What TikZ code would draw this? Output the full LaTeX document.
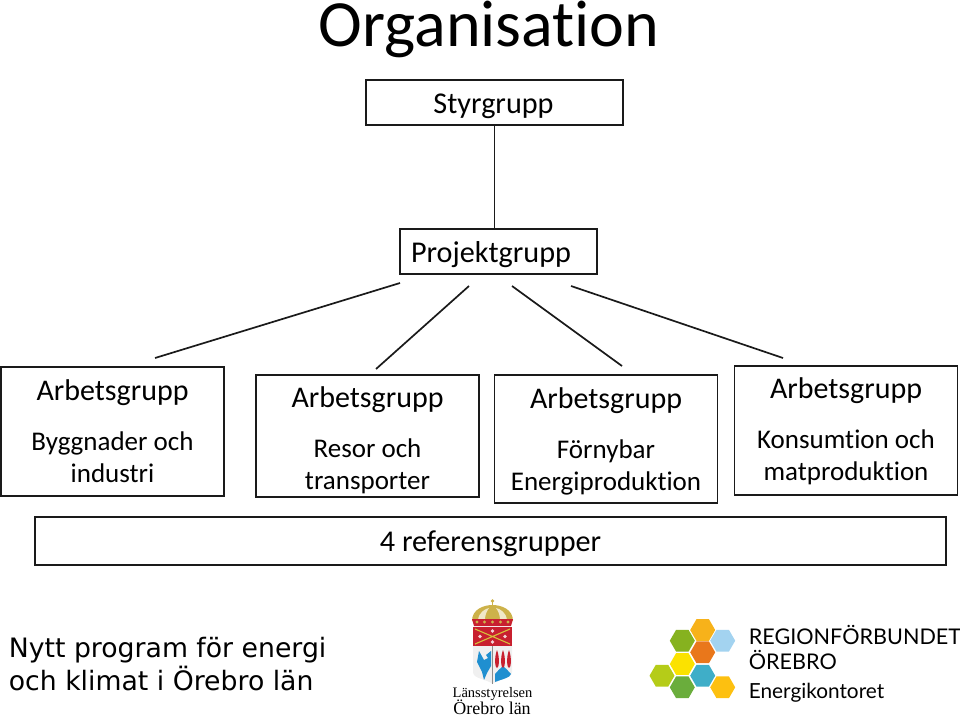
\documentclass[tikz,border=0pt]{standalone}
\usepackage{fontspec}
\setmainfont[Ligatures=NoCommon]{Carlito}
\newfontfamily\screenfont{DejaVu Sans}
\newfontfamily\regionfont{Lato}
\newfontfamily\countyfont{Liberation Serif}
\usetikzlibrary{shapes.geometric}
\definecolor{linegray}{HTML}{1A1A1A}
\definecolor{hexorange}{HTML}{F7B21A}
\definecolor{hexsky}{HTML}{A3D3F0}
\definecolor{hexgreen}{HTML}{86B21F}
\definecolor{hexdeep}{HTML}{E9771B}
\definecolor{hexyellow}{HTML}{FBE200}
\definecolor{hexteal}{HTML}{3FAEC8}
\definecolor{hexlime}{HTML}{B5CC18}
\definecolor{hexforest}{HTML}{6AAD3C}
\definecolor{hexamber}{HTML}{FDC010}
\definecolor{crestred}{HTML}{C8202F}
\definecolor{crestblue}{HTML}{1F8FD0}
\definecolor{crestgold}{HTML}{CDB24A}
\newcommand{\grouphead}[2]{{\fontsize{30}{32}\selectfont\rule{0pt}{#1pt}#2}}
\begin{document}
\begin{tikzpicture}[
    x=1pt, y=-1pt, line width=1.7pt,
    box/.style={draw=linegray, rectangle, align=center, inner sep=0pt, text=black},
    groupbox/.style={box, minimum width=223pt, font=\fontsize{27}{32}\selectfont},
    topbox/.style={box, font=\fontsize{30.2}{32}\selectfont},
    hexcell/.style={regular polygon, regular polygon sides=6, minimum size=25pt, inner sep=0pt, draw=none},
    logotext/.style={inner sep=0pt, anchor=base west, text=black}
]
\useasboundingbox (0,0) rectangle (960,720);
\node (title) [inner sep=0pt, anchor=base, font=\fontsize{66}{70}\selectfont] at (489,46) {Organisation};
\node (styrgrupp) [topbox, minimum width=257pt, minimum height=45pt] at (494.5,102.5) {\rule{0pt}{27pt}Styrgrupp\hspace*{2pt}};
\node (projektgrupp) [topbox, minimum width=197pt, minimum height=45pt] at (498.5,251.5) {\rule{0pt}{27pt}Projektgrupp\hspace*{15pt}};
\node (arbetsgrupp_byggnader) [groupbox, minimum height=129pt] at (112.5,431.5) {\grouphead{20}{Arbetsgrupp}\\[18pt]Byggnader och\\industri};
\node (arbetsgrupp_resor) [groupbox, minimum height=122pt] at (367.5,436) {\grouphead{30}{Arbetsgrupp}\\[18pt]Resor och\\transporter};
\node (arbetsgrupp_fornybar) [groupbox, minimum height=128pt] at (606,439) {\grouphead{25}{Arbetsgrupp}\\[18pt]Förnybar\\Energiproduktion};
\node (arbetsgrupp_konsumtion) [groupbox, minimum height=129pt] at (846,430.5) {\grouphead{22}{Arbetsgrupp}\\[18pt]Konsumtion och\\matproduktion};
\node (referensgrupper) [topbox, minimum width=911pt, minimum height=48pt] at (490.5,541) {\rule{0pt}{27pt}4 referensgrupper};
\coordinate (byggnader_from) at (400,283);
\coordinate (byggnader_to) at (155,358);
\coordinate (resor_from) at (469,286);
\coordinate (resor_to) at (376,369);
\coordinate (fornybar_from) at (512,286);
\coordinate (fornybar_to) at (622,366);
\coordinate (konsumtion_from) at (571,286);
\coordinate (konsumtion_to) at (783,358);
\draw[linegray] (styrgrupp.south) -- (styrgrupp.south |- projektgrupp.north);
\draw[linegray] (byggnader_from) -- (byggnader_to);
\draw[linegray] (resor_from) -- (resor_to);
\draw[linegray] (fornybar_from) -- (fornybar_to);
\draw[linegray] (konsumtion_from) -- (konsumtion_to);
\node (program_line_one) [logotext, font=\screenfont\fontsize{26.7}{30}\selectfont] at (8,657) {Nytt program för energi};
\node (program_line_two) [logotext, font=\screenfont\fontsize{26.7}{30}\selectfont] at (8,690) {och klimat i Örebro län};
\draw[crestgold, line width=1pt] (492.5,601) -- (492.5,606);
\fill[crestgold] (492.5,601) circle (1.8);
\fill[crestgold] (472,621) .. controls (472,609) and (484,605) .. (492.5,605) .. controls (501,605) and (513,609) .. (513,621) -- cycle;
\fill[white, opacity=.7] (478,620) .. controls (479,612) and (485,609) .. (489,608) .. controls (486,612) and (485,616) .. (485,620) -- cycle;
\fill[white, opacity=.7] (507,620) .. controls (506,612) and (500,609) .. (496,608) .. controls (499,612) and (500,616) .. (500,620) -- cycle;
\fill[crestred] (472,619) -- (513,619) -- (511,626) -- (474,626) -- cycle;
\foreach \jewelx in {477,484.5,492.5,500.5,508}
    \fill[crestgold] (\jewelx,622) circle (1.6);
\fill[crestred] (473,627) rectangle (512,646);
\draw[crestgold!80!yellow, line width=1.1pt] (475,629) -- (510,644) (510,629) -- (475,644);
\foreach \rosex/\rosey in {480/636.5,492.5/631,505/636.5,492.5/642}
    \fill[white!80!crestred] (\rosex,\rosey) circle (1.8);
\fill[white!94!black] (473,646) -- (512,646) -- (512,672) .. controls (512,679) and (498,679) .. (492.5,684) .. controls (487,679) and (473,679) .. (473,672) -- cycle;
\draw[black!45, line width=.5pt] (492.5,646) -- (492.5,684);
\fill[crestblue] (491,651) -- (486,655) -- (488,658) -- (484,660) -- (479,651) -- (477,662) -- (482,672) -- (484,680) -- (487,673) -- (491,666) -- cycle;
\fill[crestblue] (495,682) -- (495,674) .. controls (498,671) and (500,668) .. (503,666) .. controls (506,668) and (508,671) .. (511,674) .. controls (510,678) and (502,679) .. (495,682) -- cycle;
\foreach \flamex in {497,503,509}
    \fill[crestred] (\flamex,650) .. controls (\flamex+3,658) and (\flamex+2,668) .. (\flamex,668) .. controls (\flamex-2,668) and (\flamex-3,658) .. (\flamex,650) -- cycle;
\node (county_line_one) [inner sep=0pt, anchor=base, font=\countyfont\fontsize{14.5}{16}\selectfont] at (492.5,697) {Länsstyrelsen};
\node (county_line_two) [inner sep=0pt, anchor=base, font=\countyfont\fontsize{18}{20}\selectfont] at (492,714) {Örebro län};
\node (hex_top) [hexcell, fill=hexorange] at (702.7,630) {};
\node (hex_sky) [hexcell, fill=hexsky] at (722.7,640.7) {};
\node (hex_green) [hexcell, fill=hexgreen] at (682.3,640.7) {};
\node (hex_deep) [hexcell, fill=hexdeep] at (702.7,652.3) {};
\node (hex_yellow) [hexcell, fill=hexyellow] at (682.3,664) {};
\node (hex_teal) [hexcell, fill=hexteal] at (702.7,675.7) {};
\node (hex_lime) [hexcell, fill=hexlime] at (662,675.7) {};
\node (hex_forest) [hexcell, fill=hexforest] at (682.3,687.3) {};
\node (hex_amber) [hexcell, fill=hexamber] at (722.7,687.3) {};
\node (region_line_one) [logotext, font=\regionfont\fontsize{21.6}{24}\selectfont] at (748,644) {REGIONFÖRBUNDET};
\node (region_line_two) [logotext, font=\regionfont\fontsize{21.6}{24}\selectfont] at (748,669) {ÖREBRO};
\node (region_line_three) [logotext, font=\regionfont\fontsize{20.8}{24}\selectfont] at (748,698) {Energikontoret};
\end{tikzpicture}
\end{document}
